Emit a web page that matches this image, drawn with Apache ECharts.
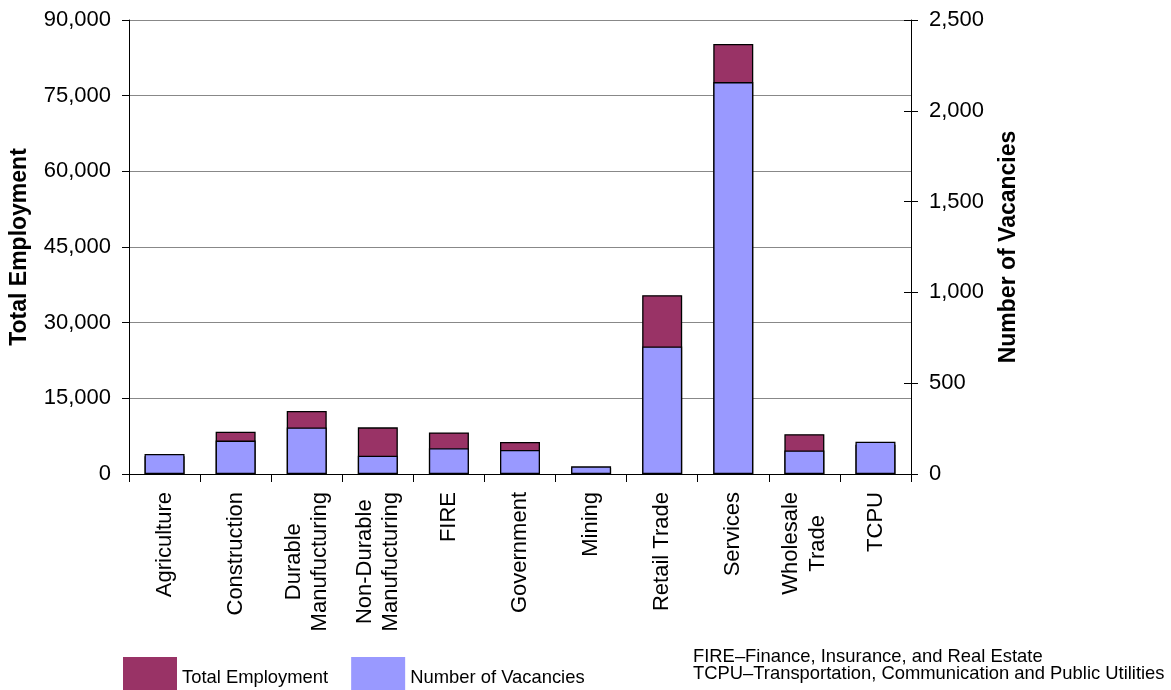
<!DOCTYPE html>
<html>
<head>
<meta charset="utf-8">
<script src="https://cdn.jsdelivr.net/npm/echarts@6/dist/echarts.min.js"></script>
<style>
html,body{margin:0;padding:0;background:#fff;}
#chart{width:1171px;height:690px;}
</style>
</head>
<body>
<div id="chart"></div>
<script>
var categories = ['Agriculture','Construction','Durable\nManufucturing','Non-Durable\nManufucturing','FIRE','Government','Mining','Retail Trade','Services','Wholesale\nTrade','TCPU'];
var totalEmployment = [3500, 8400, 12500, 9250, 8250, 6350, 1200, 35450, 85250, 7900, 5800];
var vacancies = [110, 184, 256, 101, 142, 132, 42, 702, 2158, 129, 178];
var footnotes = ['FIRE\u2013Finance, Insurance, and Real Estate', 'TCPU\u2013Transportation, Communication and Public Utilities'];

var FONT = "'Liberation Sans', Arial, sans-serif";
var LABEL_SIZE = 22;
var LABEL_MARGIN = 18;
var LABEL_LINE_GAP = 26.5;
var GRID = {left: 129, right: 260, top: 20, bottom: 216};
var W = 1171, H = 690;

var measureCtx = document.createElement('canvas').getContext('2d');
measureCtx.font = LABEL_SIZE + 'px ' + FONT;

var chart = echarts.init(document.getElementById('chart'), null, {renderer: 'canvas'});
var footnoteGraphic = {
  type: 'text', id: 'footnote', left: 693, top: 648,
  style: {text: footnotes.join('\n'), font: '18.4px ' + FONT, lineHeight: 17, fill: '#000'}
};
var option = {
  animation: false,
  backgroundColor: '#ffffff',
  textStyle: {fontFamily: FONT, color: '#000'},
  grid: {left: GRID.left, right: GRID.right, top: GRID.top, bottom: GRID.bottom, containLabel: false},
  legend: {
    left: 123, top: 657, padding: 0,
    icon: 'rect',
    itemWidth: 54, itemHeight: 33, itemGap: 23,
    itemStyle: {borderWidth: 0},
    formatter: '{t|{name}}',
    textStyle: {fontFamily: FONT, fontSize: 18.4, color: '#000',
      rich: {t: {fontFamily: FONT, fontSize: 18.4, color: '#000', padding: [9, 0, 0, 0]}}},
    data: ['Total Employment', 'Number of Vacancies']
  },
  xAxis: {
    type: 'category',
    data: categories,
    boundaryGap: true,
    axisLine: {show: true, lineStyle: {color: '#000', width: 1}},
    axisTick: {show: true, length: 8, inside: false, alignWithLabel: false, interval: 0, lineStyle: {color: '#000'}},
    // category labels are drawn as rotated single-line texts at the axis positions (see below)
    axisLabel: {show: false},
    splitLine: {show: false}
  },
  yAxis: [
    {
      type: 'value', position: 'left', min: 0, max: 90000, interval: 15000,
      name: 'Total Employment', nameLocation: 'middle', nameGap: 98, nameRotate: 90,
      nameTextStyle: {fontFamily: FONT, fontSize: 23, fontWeight: 'bold', color: '#000'},
      axisLine: {show: true, lineStyle: {color: '#000', width: 1}},
      axisTick: {show: true, length: 7, inside: false, lineStyle: {color: '#000'}},
      axisLabel: {margin: 18, fontFamily: FONT, fontSize: 22, color: '#000'},
      splitLine: {show: true, lineStyle: {color: '#888888', width: 1}}
    },
    {
      type: 'value', position: 'right', min: 0, max: 2500, interval: 500,
      name: 'Number of Vacancies', nameLocation: 'middle', nameGap: 86, nameRotate: 90,
      nameTextStyle: {fontFamily: FONT, fontSize: 23, fontWeight: 'bold', color: '#000'},
      axisLine: {show: true, lineStyle: {color: '#000', width: 1}},
      axisTick: {show: true, length: 7, inside: false, lineStyle: {color: '#000'}},
      axisLabel: {margin: 18, fontFamily: FONT, fontSize: 22, color: '#000'},
      splitLine: {show: false}
    },
    {
      type: 'value', position: 'right', min: 0, max: 2500, interval: 500,
      axisLine: {show: false},
      axisTick: {show: true, length: 7, inside: true, lineStyle: {color: '#000'}},
      axisLabel: {show: false},
      splitLine: {show: false}
    }
  ],
  series: [
    {
      name: 'Total Employment', type: 'bar', yAxisIndex: 0,
      data: totalEmployment, barWidth: 40, barGap: '-100%',
      itemStyle: {color: '#993366', borderColor: '#000', borderWidth: 1.3}
    },
    {
      name: 'Number of Vacancies', type: 'bar', yAxisIndex: 1,
      data: vacancies, barWidth: 40, barGap: '-100%',
      itemStyle: {color: '#9999FF', borderColor: '#000', borderWidth: 1.3}
    }
  ],
  graphic: [footnoteGraphic]
};
try { chart.setOption(option); } catch (e) { console.error(e); }

// Category labels: each line is its own rotated text, centred on the longest line of its label,
// the block starting just below the axis and centred on the category position from the axis scale.
function num(v) { v = Array.isArray(v) ? v[0] : v; return (typeof v === 'number' && isFinite(v)) ? v : null; }
var baseY = null;
try { baseY = num(chart.convertToPixel({yAxisIndex: 0}, 0)); } catch (e) { baseY = null; }
if (baseY === null) { baseY = H - GRID.bottom; }
var plotW = W - GRID.left - GRID.right;
var graphics = [footnoteGraphic];
categories.forEach(function (cat, i) {
  var lines = cat.split('\n');
  var maxW = Math.max.apply(null, lines.map(function (s) { return measureCtx.measureText(s).width; }));
  var px = null;
  try { px = num(chart.convertToPixel({xAxisIndex: 0}, i)); } catch (e) { px = null; }
  if (px === null) { px = GRID.left + (i + 0.5) * plotW / categories.length; }
  lines.forEach(function (line, j) {
    graphics.push({
      type: 'text', id: 'xl' + i + '_' + j,
      x: px + (j - (lines.length - 1) / 2) * LABEL_LINE_GAP,
      y: baseY + LABEL_MARGIN + maxW / 2,
      rotation: Math.PI / 2,
      style: {text: line, font: LABEL_SIZE + 'px ' + FONT,
        align: 'center', verticalAlign: 'middle', fill: '#000'}
    });
  });
});
try { chart.setOption({graphic: graphics}); } catch (e) { console.error(e); }
</script>
</body>
</html>
